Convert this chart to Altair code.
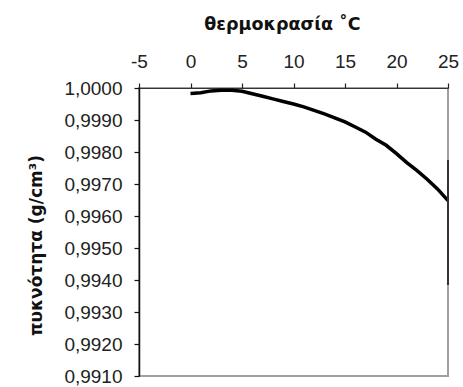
import altair as alt
import pandas as pd

temps = [0, 1, 2, 3, 4, 5, 6, 7, 8, 9, 10, 11, 12, 13, 14, 15, 16, 17, 18, 19, 20, 21, 22, 23, 24, 25]
density = [0.99983, 0.99985, 0.99991, 0.99993, 0.99993, 0.99990, 0.99982, 0.99974, 0.99966, 0.99958,
           0.99950, 0.99941, 0.99930, 0.99919, 0.99907, 0.99894, 0.99878, 0.99862, 0.99840, 0.99821,
           0.99795, 0.99767, 0.99742, 0.99714, 0.99684, 0.99648]
x_ticks = [-5, 0, 5, 10, 15, 20, 25]
y_ticks = [0.991, 0.992, 0.993, 0.994, 0.995, 0.996, 0.997, 0.998, 0.999, 1.0]
seg_x = [25]
seg_top = [0.99775]
seg_bottom = [0.99384]

df = pd.DataFrame({"t": temps, "d": density})
seg = pd.DataFrame({"t": seg_x, "d": seg_top, "d2": seg_bottom})

xscale = alt.Scale(domain=[-5, 25], nice=False, zero=False)
yscale = alt.Scale(domain=[0.991, 1.0], nice=False, zero=False)

xaxis = alt.Axis(
    orient="top", values=x_ticks, title="θερμοκρασία ˚C", grid=False,
    labelExpr="datum.value < 0 ? '-' + abs(datum.value) : '' + datum.value",
    labelFont="Liberation Sans", labelFontSize=19, labelColor="#222222",
    labelPadding=12, ticks=True, tickSize=5, tickColor="#222222", tickWidth=1.2,
    domain=True, domainColor="#333333", domainWidth=1.2,
    titleFont="DejaVu Sans", titleFontWeight="bold", titleFontSize=17.5,
    titleColor="#111111", titleX=143, titleY=-64, titleBaseline="middle",
    labelFlush=False, labelOverlap=False,
)
yaxis = alt.Axis(
    values=y_ticks, title="πυκνότητα (g/cm³)", grid=False,
    labelExpr="replace(format(datum.value, '.4f'), '.', ',')",
    labelFont="Liberation Sans", labelFontSize=19, labelColor="#222222",
    labelPadding=12, ticks=True, tickSize=5, tickColor="#111111", tickWidth=1.2,
    domain=True, domainColor="#111111", domainWidth=1.5,
    titleFont="DejaVu Sans", titleFontWeight="bold",
    titleFontSize=17, titleColor="#111111", titleX=-103, titleY=157,
    titleAngle=270, titleBaseline="middle", titleAlign="center",
    labelFlush=False, labelOverlap=False,
)

line = alt.Chart(df).mark_line(color="black", strokeWidth=3.5).encode(
    x=alt.X("t:Q", scale=xscale, axis=xaxis),
    y=alt.Y("d:Q", scale=yscale, axis=yaxis),
)
rule = alt.Chart(seg).mark_rule(color="#333333", strokeWidth=2).encode(
    x=alt.X("t:Q", scale=xscale, axis=xaxis),
    y=alt.Y("d:Q", scale=yscale, axis=yaxis),
    y2="d2:Q",
)

chart = (
    alt.layer(line, rule)
    .properties(
        width=309, height=288,
        autosize=alt.AutoSizeParams(type="none"),
        padding={"left": 139, "top": 88, "right": 15, "bottom": 11},
        background="white",
    )
    .configure_view(stroke="#a0a0a0", strokeWidth=2)
)
chart.save("out.html", embed_options={"renderer": "svg", "actions": False})
